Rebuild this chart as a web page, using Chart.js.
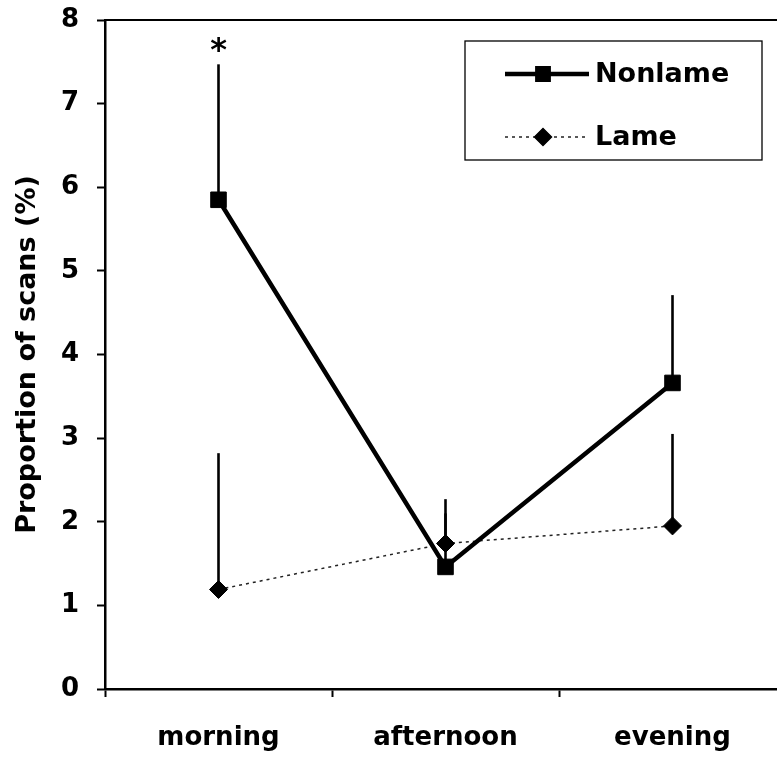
<!DOCTYPE html>
<html><head><meta charset="utf-8">
<script src="https://cdn.jsdelivr.net/npm/chart.js@4.4.0/dist/chart.umd.min.js"></script>
<style>html,body{margin:0;padding:0;background:#fff;overflow:hidden;width:777px;height:757px}canvas{display:block}</style>
</head><body>
<canvas id="c" width="800" height="757"></canvas>
<script>
// ---- data ----
const categories = ['morning', 'afternoon', 'evening'];
const nonlame = [5.85, 1.46, 3.66];
const nonlameUpper = [7.47, 2.1, 4.71];
const lame = [1.19, 1.74, 1.95];
const lameUpper = [2.82, 2.27, 3.05];
const nonlameMarks = ['*', '', ''];
const yTicks = [0, 1, 2, 3, 4, 5, 6, 7, 8];
const yTitle = 'Proportion of scans (%)';
const seriesNames = ['Nonlame', 'Lame'];

const FONT = '"DejaVu Sans", "Liberation Sans", Arial, sans-serif';

const errorBars = {
  id: 'errorBars',
  beforeDatasetsDraw(chart) {
    const { ctx, scales: { x, y } } = chart;
    ctx.save();
    ctx.strokeStyle = '#000';
    ctx.lineWidth = 2.6;
    chart.data.datasets.forEach(ds => {
      ds.upper.forEach((u, j) => {
        const px = x.getPixelForValue(j);
        ctx.beginPath();
        ctx.moveTo(px, y.getPixelForValue(ds.data[j]));
        ctx.lineTo(px, y.getPixelForValue(u));
        ctx.stroke();
      });
    });
    ctx.restore();
  },
  afterDatasetsDraw(chart) {
    const { ctx, scales: { x, y } } = chart;
    const ds = chart.data.datasets[0];
    ctx.save();
    ctx.fillStyle = '#000';
    ctx.font = 'bold 32px ' + FONT;
    ctx.textAlign = 'center';
    ctx.textBaseline = 'middle';
    ds.marks.forEach((m, j) => {
      if (!m) return;
      ctx.fillText(m, x.getPixelForValue(j), y.getPixelForValue(ds.upper[j]) - 13);
    });
    ctx.restore();
  }
};

const frame = {
  id: 'frame',
  afterDraw(chart) {
    const { ctx, chartArea: a } = chart;
    ctx.save();
    ctx.strokeStyle = '#000';
    ctx.lineWidth = 2;
    ctx.beginPath();
    ctx.moveTo(a.left, a.top);
    ctx.lineTo(a.right, a.top);
    ctx.lineTo(a.right, a.bottom);
    ctx.stroke();
    ctx.restore();
  }
};

const boxLegend = {
  id: 'boxLegend',
  afterDraw(chart) {
    const { ctx, chartArea: a } = chart;
    const bx = a.right - 321, by = a.top + 21, bw = 297, bh = 119;
    ctx.save();
    ctx.fillStyle = '#fff';
    ctx.fillRect(bx, by, bw, bh);
    ctx.strokeStyle = '#000';
    ctx.lineWidth = 1.3;
    ctx.strokeRect(bx, by, bw, bh);
    const rows = [by + 33, by + 96];
    const sizes = [8, 8.5];
    chart.data.datasets.forEach((ds, i) => {
      const ry = rows[i];
      ctx.strokeStyle = ds.borderColor;
      ctx.lineWidth = ds.borderWidth;
      ctx.setLineDash(ds.borderDash || []);
      ctx.beginPath();
      ctx.moveTo(bx + 40, ry);
      ctx.lineTo(bx + 124, ry);
      ctx.stroke();
      ctx.setLineDash([]);
      Chart.helpers.drawPoint(ctx, {
        pointStyle: ds.pointStyle, radius: sizes[i], borderWidth: 1, rotation: 0
      }, bx + 78, ry);
      ctx.fillStyle = '#000';
      ctx.strokeStyle = '#000';
      ctx.lineWidth = 1;
      ctx.fill();
      ctx.stroke();
      ctx.font = 'bold 27px ' + FONT;
      ctx.textAlign = 'left';
      ctx.textBaseline = 'middle';
      ctx.fillText(ds.label, bx + 130, ry + 1);
    });
    ctx.restore();
  }
};

new Chart(document.getElementById('c'), {
  type: 'line',
  data: {
    labels: categories,
    datasets: [
      {
        label: seriesNames[0], data: nonlame, upper: nonlameUpper, marks: nonlameMarks,
        borderColor: '#000', backgroundColor: '#000', borderWidth: 4.5,
        pointStyle: 'rect', pointRadius: 11, pointBackgroundColor: '#000',
        pointBorderColor: '#000', pointBorderWidth: 1, tension: 0
      },
      {
        label: seriesNames[1], data: lame, upper: lameUpper,
        borderColor: '#222', backgroundColor: '#000', borderWidth: 1.5, borderDash: [3, 4],
        pointStyle: 'rectRot', pointRadius: 9, pointBackgroundColor: '#000',
        pointBorderColor: '#000', pointBorderWidth: 1, tension: 0
      }
    ]
  },
  options: {
    responsive: false,
    animation: false,
    devicePixelRatio: 1,
    layout: { padding: { top: 20, right: 14, left: 0, bottom: 0 } },
    plugins: { legend: { display: false }, tooltip: { enabled: false } },
    scales: {
      x: {
        type: 'category',
        offset: true,
        grid: { offset: true, drawOnChartArea: false, drawTicks: true, tickLength: 8, color: '#000', tickWidth: 2 },
        border: { display: true, color: '#000', width: 2.5 },
        ticks: { color: '#000', font: { family: FONT, size: 26, weight: 'bold' }, padding: 26, maxRotation: 0 },
        afterFit(s) { s.height = 68; s.paddingLeft = 0; s.paddingRight = 0; }
      },
      y: {
        min: 0, max: 8,
        afterBuildTicks(s) { s.ticks = yTicks.map(v => ({ value: v })); },
        grid: { drawOnChartArea: false, drawTicks: true, tickLength: 8, color: '#000', tickWidth: 2 },
        border: { display: true, color: '#000', width: 2.5 },
        ticks: { color: '#000', font: { family: FONT, size: 26, weight: 'bold' }, padding: 18 },
        title: { display: true, text: yTitle, color: '#000', font: { family: FONT, size: 27, weight: 'bold' }, padding: { top: 12, bottom: 0 } },
        afterFit(s) { s.width = 105; s.paddingTop = 0; s.paddingBottom = 0; }
      }
    }
  },
  plugins: [errorBars, frame, boxLegend]
});
</script>
</body></html>
